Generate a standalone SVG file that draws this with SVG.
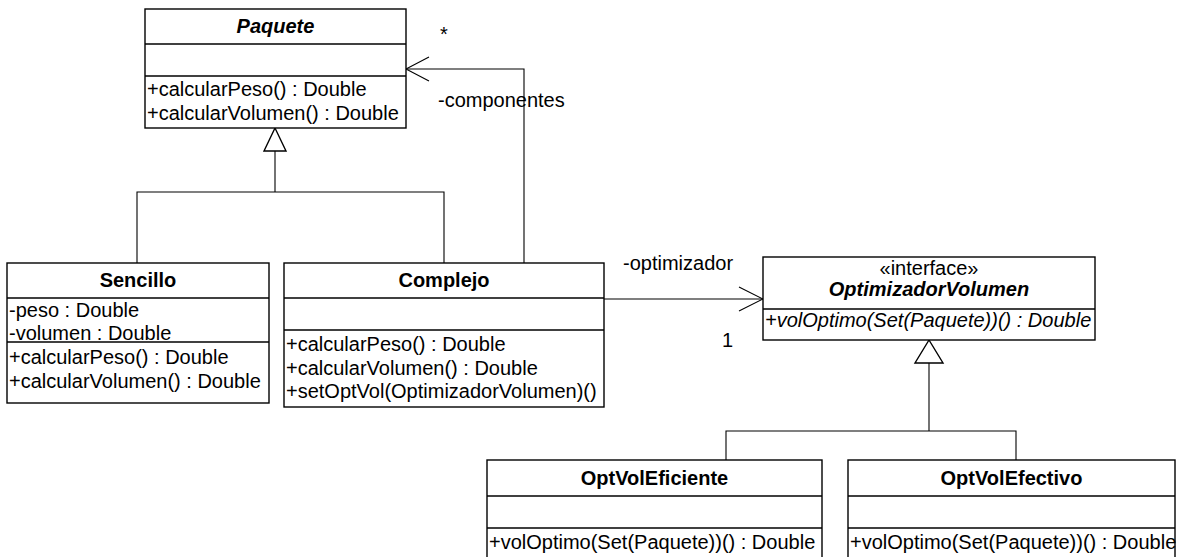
<svg xmlns="http://www.w3.org/2000/svg" width="1177" height="557" viewBox="0 0 1177 557">
<style>
text{font-family:"Liberation Sans",Arial,sans-serif;font-size:20px;fill:#000}
.t{font-weight:bold;text-anchor:middle}
.ti{font-weight:bold;font-style:italic;text-anchor:middle}
.it{font-style:italic}
.c{text-anchor:middle}
.box{fill:#fff;stroke:#000;stroke-width:1.4}
.div{stroke:#000;stroke-width:1.4}
.ln{fill:none;stroke:#000;stroke-width:1.1}
.tri{fill:#fff;stroke:#000;stroke-width:1.4}
</style>
<rect width="1177" height="557" fill="#fff"/>
<g id="connectors">
<polygon class="tri" points="275,128 264,151 286,151"/>
<polyline class="ln" points="275,151 275,192"/>
<polyline class="ln" points="137,263 137,192 444,192 444,263"/>
<polyline class="ln" points="524,263 524,69 406,69"/>
<polyline class="ln" points="429,57 406,69 429,81"/>
<polyline class="ln" points="604,299 763,299"/>
<polyline class="ln" points="739,287 763,299 739,311"/>
<polygon class="tri" points="929,340 915,363 943,363"/>
<polyline class="ln" points="929,363 929,431"/>
<polyline class="ln" points="726,460 726,431 1016,431 1016,460"/>
<text x="440" y="41">*</text>
<text x="438" y="107">-componentes</text>
<text x="623" y="270">-optimizador</text>
<text x="722" y="347">1</text>
</g>
<g id="Paquete">
<rect class="box" x="145" y="9" width="261" height="119"/>
<line class="div" x1="145" y1="44" x2="406" y2="44"/>
<line class="div" x1="145" y1="76" x2="406" y2="76"/>
<text class="ti" x="275.5" y="33">Paquete</text>
<text x="147" y="96">+calcularPeso() : Double</text>
<text x="147" y="120">+calcularVolumen() : Double</text>
</g>
<g id="Sencillo">
<rect class="box" x="7" y="263" width="262" height="140"/>
<line class="div" x1="7" y1="298" x2="269" y2="298"/>
<line class="div" x1="7" y1="342" x2="269" y2="342"/>
<text class="t" x="138" y="287">Sencillo</text>
<text x="9" y="317">-peso : Double</text>
<text x="9" y="340">-volumen : Double</text>
<text x="9" y="364">+calcularPeso() : Double</text>
<text x="9" y="388">+calcularVolumen() : Double</text>
</g>
<g id="Complejo">
<rect class="box" x="284" y="263" width="320" height="144"/>
<line class="div" x1="284" y1="298" x2="604" y2="298"/>
<line class="div" x1="284" y1="330" x2="604" y2="330"/>
<text class="t" x="444" y="287">Complejo</text>
<text x="286" y="351">+calcularPeso() : Double</text>
<text x="286" y="375">+calcularVolumen() : Double</text>
<text x="286" y="398">+setOptVol(OptimizadorVolumen)()</text>
</g>
<g id="OptimizadorVolumen">
<rect class="box" x="763" y="257" width="332" height="83"/>
<line class="div" x1="763" y1="309" x2="1095" y2="309"/>
<text class="c" x="929" y="275">«interface»</text>
<text class="ti" x="929" y="296">OptimizadorVolumen</text>
<text class="it" x="765" y="327">+volOptimo(Set(Paquete))() : Double</text>
</g>
<g id="OptVolEficiente">
<rect class="box" x="487" y="460" width="335" height="110"/>
<line class="div" x1="487" y1="496" x2="822" y2="496"/>
<line class="div" x1="487" y1="528" x2="822" y2="528"/>
<text class="t" x="654.5" y="485">OptVolEficiente</text>
<text x="489" y="549">+volOptimo(Set(Paquete))() : Double</text>
</g>
<g id="OptVolEfectivo">
<rect class="box" x="848" y="460" width="327" height="110"/>
<line class="div" x1="848" y1="496" x2="1175" y2="496"/>
<line class="div" x1="848" y1="528" x2="1175" y2="528"/>
<text class="t" x="1011.5" y="485">OptVolEfectivo</text>
<text x="850" y="549">+volOptimo(Set(Paquete))() : Double</text>
</g>
</svg>
